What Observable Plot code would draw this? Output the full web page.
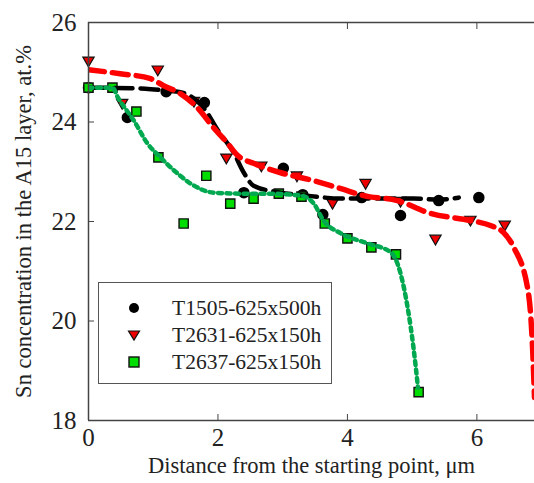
<!DOCTYPE html>
<html>
<head>
<meta charset="utf-8">
<script src="https://cdn.jsdelivr.net/npm/d3@7"></script>
<script src="https://cdn.jsdelivr.net/npm/@observablehq/plot@0.6"></script>
<style>
  html, body { margin: 0; padding: 0; background: #fff; overflow: hidden; }
  #wrap { position: relative; width: 534px; height: 483px; }
  #legend { position: absolute; left: 98px; top: 282px; width: 234px; height: 102px;
    border: 1.5px solid #555; box-sizing: border-box; background: #fff;
    font-family: "Liberation Serif", "Times New Roman", Times, "DejaVu Serif", serif; font-size: 21.5px; color: #222; }
  #legend .row { position: absolute; left: 0; height: 26px; display: flex; align-items: center; }
  #legend svg { margin-left: 27px; margin-right: 30px; }
  svg text { font-family: "Liberation Serif", "Times New Roman", Times, "DejaVu Serif", serif; }
</style>
</head>
<body>
<div id="wrap"><div id="chart"></div><div id="legend"></div></div>
<script>
// ---- data ----
const seriesNames = ["T1505-625x500h", "T2631-625x150h", "T2637-625x150h"];

// T1505 measured points
const t1505X = [0, 0.60, 1.20, 1.79, 2.40, 3.01, 3.31, 3.62, 4.22, 4.82, 5.41, 6.03];
const t1505Y = [24.69, 24.09, 24.61, 24.39, 22.58, 23.07, 22.54, 22.14, 22.48, 22.12, 22.42, 22.48];
// T2631 measured points
const t2631X = [0, 0.52, 1.07, 1.63, 2.13, 2.67, 3.22, 3.77, 4.28, 4.82, 5.36, 5.90, 6.43];
const t2631Y = [25.24, 24.39, 25.06, 24.43, 23.29, 23.13, 22.93, 22.38, 22.78, 22.42, 21.66, 22.04, 21.94];
// T2637 measured points
const t2637X = [0, 0.37, 0.74, 1.08, 1.47, 1.82, 2.19, 2.55, 2.94, 3.29, 3.65, 4.00, 4.37, 4.75, 5.10];
const t2637Y = [24.69, 24.69, 24.21, 23.29, 21.96, 22.92, 22.36, 22.46, 22.56, 22.50, 21.96, 21.66, 21.48, 21.34, 18.57];

// fitted trend curves
const fit1505X = [0, 0.88, 1.19, 1.42, 1.81, 2.00, 2.24, 2.40, 2.55, 2.97, 3.38, 3.90, 4.25, 5.02, 5.41, 5.72];
const fit1505Y = [24.69, 24.67, 24.63, 24.60, 24.23, 23.83, 23.39, 22.98, 22.72, 22.58, 22.52, 22.46, 22.46, 22.46, 22.44, 22.48];
const fit2631X = [0, 0.49, 0.96, 1.16, 1.42, 1.68, 1.93, 2.15, 2.30, 2.55, 2.97, 3.48, 3.90, 4.25, 4.77, 5.29, 5.90, 6.21, 6.41, 6.57, 6.79, 6.86, 6.89];
const fit2631Y = [25.05, 24.97, 24.87, 24.73, 24.57, 24.29, 23.89, 23.57, 23.33, 23.17, 22.98, 22.82, 22.66, 22.52, 22.42, 22.16, 22.02, 21.92, 21.78, 21.48, 20.61, 19.47, 18.46];
const fit2637X = [0, 0.37, 0.45, 0.70, 0.91, 1.11, 1.38, 1.58, 1.93, 2.35, 2.77, 3.28, 3.48, 3.63, 3.90, 4.31, 4.67, 4.82, 4.93, 5.02, 5.09];
const fit2637Y = [24.69, 24.69, 24.50, 24.03, 23.57, 23.29, 22.96, 22.76, 22.58, 22.56, 22.56, 22.52, 22.36, 22.02, 21.76, 21.56, 21.38, 20.96, 20.27, 19.47, 18.66];

const xTicks = [0, 2, 4, 6];
const yTicks = [18, 20, 22, 24, 26];
const xLabel = "Distance from the starting point, μm";
const yLabel = "Sn concentration in the A15 layer, at.%";

// ---- build tables ----
const zip = (xs, ys) => xs.map((x, i) => ({x, y: ys[i]}));
const p1505 = zip(t1505X, t1505Y), p2631 = zip(t2631X, t2631Y), p2637 = zip(t2637X, t2637Y);
const f1505 = zip(fit1505X, fit1505Y), f2631 = zip(fit2631X, fit2631Y), f2637 = zip(fit2637X, fit2637Y);

const axisColor = "#444";
const fmt = d3.format("d");
const chart = Plot.plot({
  width: 534, height: 483,
  marginLeft: 88, marginRight: 0, marginTop: 22, marginBottom: 63,
  style: {fontFamily: "'Liberation Serif', 'Times New Roman', Times, serif", color: "#222", background: "#fff"},
  x: {domain: [0, 6.89]},
  y: {domain: [18, 26]},
  marks: [
    Plot.dot(p1505, {x: "x", y: "y", r: 5, fill: "#000", stroke: "#000"}),
    Plot.dot(p2631, {x: "x", y: "y", symbol: "triangle", rotate: 180, r: 4.2, fill: "#ee0000", stroke: "#111", strokeWidth: 1.2}),
    Plot.dot(p2637, {x: "x", y: "y", symbol: "square", r: 5.2, fill: "#00dd00", stroke: "#111", strokeWidth: 1.4}),
    Plot.line(f1505, {x: "x", y: "y", curve: "monotone-x", stroke: "#000", strokeWidth: 4.5, strokeDasharray: "18,8", clip: true}),
    Plot.line(f2637, {x: "x", y: "y", curve: "monotone-x", stroke: "#00a84f", strokeWidth: 4.5, strokeDasharray: "4,4.5", clip: true}),
    Plot.line(f2631, {x: "x", y: "y", curve: "monotone-x", stroke: "#ff0000", strokeWidth: 5.5, strokeDasharray: "16,8", clip: true}),
    Plot.ruleX([0], {stroke: axisColor, strokeWidth: 1.5}),
    Plot.ruleY([18], {stroke: axisColor, strokeWidth: 1.5}),
    Plot.ruleY([26], {stroke: axisColor, strokeWidth: 1.5}),
    Plot.axisX({ticks: xTicks, tickSize: -6, tickPadding: 14, fontSize: 25, tickFormat: fmt, label: null, stroke: axisColor}),
    Plot.axisX({anchor: "top", ticks: xTicks.slice(1), tickSize: -6, tickFormat: () => "", label: null, stroke: axisColor}),
    Plot.axisY({ticks: yTicks, tickSize: -6, tickPadding: 18, fontSize: 25, tickFormat: fmt, label: null, stroke: axisColor}),
    Plot.text([xLabel], {frameAnchor: "bottom", dy: 52, fontSize: 22.5, fill: "#222"}),
    Plot.text([yLabel], {frameAnchor: "left", textAnchor: "middle", dx: -65, rotate: -90, fontSize: 22.5, fill: "#222"})
  ]
});
document.getElementById("chart").appendChild(chart);

// ---- legend ----
const legend = document.getElementById("legend");
const symbols = [
  '<circle cx="8" cy="8" r="5" fill="#000"/>',
  '<path d="M2.5,4 L13.5,4 L8,13 Z" fill="#ee0000" stroke="#111" stroke-width="1.2"/>',
  '<rect x="3" y="3" width="10" height="10" fill="#00dd00" stroke="#111" stroke-width="1.4"/>'
];
seriesNames.forEach((name, i) => {
  const row = document.createElement("div");
  row.className = "row";
  row.style.top = (12 + i * 27) + "px";
  row.innerHTML = `<svg width="16" height="16">${symbols[i]}</svg><span>${name}</span>`;
  legend.appendChild(row);
});
</script>
</body>
</html>
